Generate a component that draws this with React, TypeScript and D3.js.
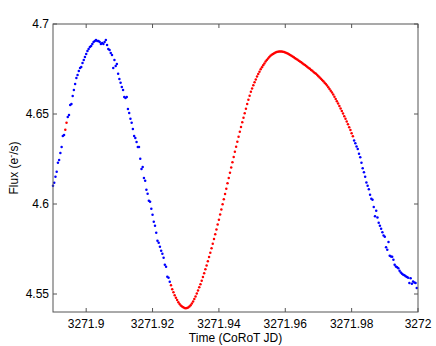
import React from 'react';
import * as d3 from 'd3';

// CoRoT light curve segment: flux samples at a 32 s cadence
const T0 = 3271.89;
const CADENCE = 32 / 86400;
const flux: number[] = [
  4.6101, 4.6118, 4.6151, 4.6179, 4.6229, 4.6245, 4.6284, 4.6317, 4.6378, 4.6384,
  4.6412, 4.6451, 4.6484, 4.6495, 4.6550, 4.6556, 4.6600, 4.6634, 4.6667, 4.6700,
  4.6717, 4.6739, 4.6756, 4.6761, 4.6784, 4.6800, 4.6817, 4.6834, 4.6850, 4.6861,
  4.6872, 4.6878, 4.6889, 4.6900, 4.6906, 4.6911, 4.6906, 4.6906, 4.6900, 4.6889,
  4.6895, 4.6889, 4.6900, 4.6911, 4.6883, 4.6861, 4.6856, 4.6839, 4.6828, 4.6756,
  4.6800, 4.6767, 4.6778, 4.6723, 4.6695, 4.6673, 4.6650, 4.6634, 4.6595, 4.6589,
  4.6595, 4.6528, 4.6506, 4.6473, 4.6451, 4.6417, 4.6378, 4.6367, 4.6345, 4.6317,
  4.6317, 4.6251, 4.6195, 4.6206, 4.6145, 4.6129, 4.6079, 4.6057, 4.6018, 4.6012,
  4.5973, 4.5940, 4.5901, 4.5879, 4.5840, 4.5796, 4.5785, 4.5762, 4.5740, 4.5724,
  4.5701, 4.5663, 4.5651, 4.5596, 4.5590, 4.5568, 4.5549, 4.5527, 4.5510, 4.5493,
  4.5479, 4.5466, 4.5454, 4.5445, 4.5436, 4.5430, 4.5426, 4.5422, 4.5421, 4.5422,
  4.5425, 4.5430, 4.5438, 4.5447, 4.5458, 4.5472, 4.5486, 4.5503, 4.5519, 4.5538,
  4.5554, 4.5574, 4.5594, 4.5615, 4.5637, 4.5659, 4.5682, 4.5705, 4.5729, 4.5754,
  4.5779, 4.5805, 4.5832, 4.5858, 4.5886, 4.5913, 4.5941, 4.5969, 4.5998, 4.6027,
  4.6056, 4.6085, 4.6115, 4.6144, 4.6174, 4.6203, 4.6232, 4.6261, 4.6290, 4.6318,
  4.6346, 4.6374, 4.6401, 4.6428, 4.6454, 4.6479, 4.6504, 4.6529, 4.6556, 4.6579,
  4.6602, 4.6623, 4.6642, 4.6660, 4.6676, 4.6692, 4.6708, 4.6722, 4.6735, 4.6748,
  4.6760, 4.6771, 4.6781, 4.6791, 4.6800, 4.6809, 4.6816, 4.6823, 4.6829, 4.6834,
  4.6838, 4.6841, 4.6844, 4.6846, 4.6847, 4.6847, 4.6847, 4.6846, 4.6844, 4.6842,
  4.6839, 4.6836, 4.6832, 4.6828, 4.6824, 4.6819, 4.6815, 4.6810, 4.6806, 4.6801,
  4.6796, 4.6791, 4.6787, 4.6782, 4.6777, 4.6772, 4.6767, 4.6761, 4.6756, 4.6751,
  4.6745, 4.6740, 4.6734, 4.6728, 4.6723, 4.6716, 4.6710, 4.6703, 4.6696, 4.6689,
  4.6682, 4.6674, 4.6666, 4.6658, 4.6649, 4.6639, 4.6629, 4.6619, 4.6608, 4.6596,
  4.6584, 4.6571, 4.6558, 4.6545, 4.6531, 4.6517, 4.6503, 4.6488, 4.6474, 4.6459,
  4.6443, 4.6427, 4.6411, 4.6393, 4.6376, 4.6353, 4.6338, 4.6320, 4.6305, 4.6279,
  4.6260, 4.6229, 4.6199, 4.6177, 4.6151, 4.6119, 4.6101, 4.6082, 4.6051, 4.6029,
  4.6023, 4.5984, 4.5932, 4.5962, 4.5925, 4.5896, 4.5879, 4.5862, 4.5843, 4.5825,
  4.5818, 4.5760, 4.5746, 4.5789, 4.5713, 4.5709, 4.5707, 4.5690, 4.5663, 4.5653,
  4.5649, 4.5643, 4.5629, 4.5620, 4.5613, 4.5607, 4.5604, 4.5599, 4.5594, 4.5590,
  4.5561, 4.5588, 4.5557, 4.5570, 4.5564, 4.5561, 4.5533,
];

// time windows drawn in red
const fitWindows: [number, number][] = [
  [3271.8935, 3271.8942],
  [3271.9254, 3271.9805],
];

const xDomain: [number, number] = [3271.89, 3272];
const yDomain: [number, number] = [4.54, 4.7];
const xTicks = [3271.9, 3271.92, 3271.94, 3271.96, 3271.98, 3272];
const xTickLabels = ['3271.9', '3271.92', '3271.94', '3271.96', '3271.98', '3272'];
const yTicks = [4.55, 4.6, 4.65, 4.7];
const yTickLabels = ['4.55', '4.6', '4.65', '4.7'];

const W = 436;
const H = 346;
const left = 53;
const right = 418;
const top = 24;
const bottom = 312;
const FONT = '"Liberation Sans", Arial, Helvetica, sans-serif';
const AXIS = '#555';
const TICK = 4;

export default function App() {
  const x = d3.scaleLinear().domain(xDomain).range([left, right]);
  const y = d3.scaleLinear().domain(yDomain).range([bottom, top]);
  const pts = flux.map((f, i) => {
    const t = T0 + i * CADENCE;
    const red = fitWindows.some(([a, b]) => t >= a && t <= b);
    return { t, f, red };
  });
  return (
    <svg
      width={W}
      height={H}
      style={{ position: 'absolute', left: 0, top: 0, background: '#fff' }}
      fontFamily={FONT}
    >
      <rect x={0} y={0} width={W} height={H} fill="#fff" />
      <g>
        {pts.map((p, i) => (
          <circle
            key={i}
            cx={x(p.t)}
            cy={y(p.f)}
            r={1.25}
            fill={p.red ? '#ff0000' : '#0000ff'}
          />
        ))}
      </g>
      <rect
        x={left}
        y={top}
        width={right - left}
        height={bottom - top}
        fill="none"
        stroke={AXIS}
        strokeWidth={1}
      />
      {xTicks.map((v, i) => (
        <g key={'x' + i}>
          <line x1={x(v)} x2={x(v)} y1={bottom} y2={bottom - TICK} stroke={AXIS} />
          <line x1={x(v)} x2={x(v)} y1={top} y2={top + TICK} stroke={AXIS} />
          <text x={x(v)} y={327.5} textAnchor="middle" fontSize={12} fill="#000">
            {xTickLabels[i]}
          </text>
        </g>
      ))}
      {yTicks.map((v, i) => (
        <g key={'y' + i}>
          <line x1={left} x2={left + TICK} y1={y(v)} y2={y(v)} stroke={AXIS} />
          <line x1={right} x2={right - TICK} y1={y(v)} y2={y(v)} stroke={AXIS} />
          <text x={49} y={y(v)} dy="0.36em" textAnchor="end" fontSize={12} fill="#000">
            {yTickLabels[i]}
          </text>
        </g>
      ))}
      <text x={(left + right) / 2} y={341.5} textAnchor="middle" fontSize={12} fill="#000">
        Time (CoRoT JD)
      </text>
      <text
        transform={`translate(18, ${(top + bottom) / 2}) rotate(-90)`}
        textAnchor="middle"
        fontSize={12}
        fill="#000"
      >
        Flux (e<tspan dy={-4} fontSize={9}>-</tspan>
        <tspan dy={4}>/s)</tspan>
      </text>
    </svg>
  );
}
